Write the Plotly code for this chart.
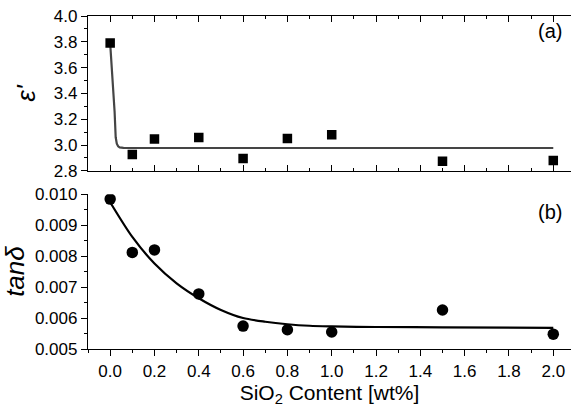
import plotly.graph_objects as go

# ---- data ----
sio2_content = [0.0, 0.1, 0.2, 0.4, 0.6, 0.8, 1.0, 1.5, 2.0]
eps_real = [3.79, 2.926, 3.047, 3.059, 2.896, 3.051, 3.079, 2.875, 2.880]
tan_delta = [0.00984, 0.00812, 0.00820, 0.00678, 0.00574, 0.00562, 0.00555, 0.00626, 0.00548]

eps_fit_x = [0.0, 0.005, 0.013, 0.02, 0.025, 0.03, 0.036, 0.043, 0.06, 0.1, 2.0]
eps_fit_y = [3.79, 3.66, 3.51, 3.26, 3.06, 3.01, 2.99, 2.982, 2.978, 2.977, 2.977]

tan_fit_x = [0.0, 0.1, 0.2, 0.3, 0.4, 0.5, 0.6, 0.7, 0.8, 0.9, 1.0, 1.2, 1.5, 2.0]
tan_fit_y = [0.00974, 0.00862, 0.00776, 0.00712, 0.00664, 0.00626, 0.00600, 0.00588,
             0.00580, 0.00575, 0.00573, 0.00571, 0.00570, 0.00568]

x_ticks = [0.0, 0.2, 0.4, 0.6, 0.8, 1.0, 1.2, 1.4, 1.6, 1.8, 2.0]
x_tick_labels = ["0.0", "0.2", "0.4", "0.6", "0.8", "1.0", "1.2", "1.4", "1.6", "1.8", "2.0"]
eps_ticks = [2.8, 3.0, 3.2, 3.4, 3.6, 3.8, 4.0]
tan_ticks = [0.005, 0.006, 0.007, 0.008, 0.009, 0.010]

FONT = "Arial, Liberation Sans, sans-serif"
X_RANGE = [-0.1, 2.08]
EPS_RANGE = [2.8, 4.0]
TAN_RANGE = [0.005, 0.010]

fig = go.Figure()

fig.add_trace(go.Scatter(x=eps_fit_x, y=eps_fit_y, mode="lines",
                         line=dict(color="#454545", width=2.2), xaxis="x", yaxis="y",
                         showlegend=False))
fig.add_trace(go.Scatter(x=sio2_content, y=eps_real, mode="markers",
                         marker=dict(symbol="square", size=9.5, color="black"),
                         xaxis="x", yaxis="y", showlegend=False))
fig.add_trace(go.Scatter(x=tan_fit_x, y=tan_fit_y, mode="lines",
                         line=dict(color="black", width=2.2, shape="spline", smoothing=0.8),
                         xaxis="x2", yaxis="y2", showlegend=False))
fig.add_trace(go.Scatter(x=sio2_content, y=tan_delta, mode="markers",
                         marker=dict(symbol="circle", size=11.5, color="black"),
                         xaxis="x2", yaxis="y2", showlegend=False))

axcommon = dict(showline=True, linecolor="black", linewidth=1.3, showgrid=False,
                zeroline=False, tickcolor="black", tickwidth=1.3, ticklen=6,
                tickfont=dict(family=FONT, size=17, color="black"))

TOP_DOM = [0.535, 1.0]
BOT_DOM = [0.0, 0.465]

fig.update_layout(
    width=578, height=412,
    margin=dict(l=88, r=7, t=7, b=63),
    paper_bgcolor="white", plot_bgcolor="white",
    font=dict(family=FONT, color="black"),
    # top panel
    xaxis=dict(axcommon, domain=[0, 1], anchor="y", range=X_RANGE, tickvals=x_ticks,
               showticklabels=False, ticks="inside", mirror="ticks",
               minor=dict(dtick=0.1, tick0=0, ticks="inside", ticklen=3,
                          tickcolor="black", tickwidth=1.1)),
    yaxis=dict(axcommon, domain=TOP_DOM, anchor="x", range=EPS_RANGE, tickvals=eps_ticks,
               tickformat=".1f", ticks="outside",
               minor=dict(dtick=0.1, tick0=2.8, ticks="outside", ticklen=3,
                          tickcolor="black", tickwidth=1.1),
               title=dict(text="<i>ε'</i>", font=dict(family=FONT, size=26), standoff=10)),
    yaxis3=dict(axcommon, overlaying="y", side="right", anchor="x", range=EPS_RANGE,
                tickvals=eps_ticks, showticklabels=False, ticks="inside",
                minor=dict(dtick=0.1, tick0=2.8, ticks="inside", ticklen=3,
                           tickcolor="black", tickwidth=1.1)),
    # bottom panel
    xaxis2=dict(axcommon, domain=[0, 1], anchor="y2", range=X_RANGE, tickvals=x_ticks,
                ticktext=x_tick_labels, ticks="outside",
                minor=dict(dtick=0.1, tick0=0, ticks="outside", ticklen=3,
                           tickcolor="black", tickwidth=1.1),
                title=dict(text="SiO<sub>2</sub> Content [wt%]",
                           font=dict(family=FONT, size=21), standoff=4)),
    xaxis3=dict(axcommon, overlaying="x2", side="top", anchor="y2", range=X_RANGE,
                tickvals=x_ticks, showticklabels=False, ticks="inside",
                minor=dict(dtick=0.1, tick0=0, ticks="inside", ticklen=3,
                           tickcolor="black", tickwidth=1.1)),
    yaxis2=dict(axcommon, domain=BOT_DOM, anchor="x2", range=TAN_RANGE, tickvals=tan_ticks,
                tickformat=".3f", ticks="outside",
                minor=dict(dtick=0.0005, tick0=0.005, ticks="outside", ticklen=3,
                           tickcolor="black", tickwidth=1.1),
                title=dict(text="<i>tanδ</i>", font=dict(family=FONT, size=26), standoff=6)),
    yaxis4=dict(axcommon, overlaying="y2", side="right", anchor="x2", range=TAN_RANGE,
                tickvals=tan_ticks, showticklabels=False, ticks="inside",
                minor=dict(dtick=0.0005, tick0=0.005, ticks="inside", ticklen=3,
                           tickcolor="black", tickwidth=1.1)),
    annotations=[
        dict(text="(a)", x=0.985, y=0.955, xref="paper", yref="paper", xanchor="right",
             yanchor="middle", showarrow=False, font=dict(family=FONT, size=20)),
        dict(text="(b)", x=0.985, y=0.41, xref="paper", yref="paper", xanchor="right",
             yanchor="middle", showarrow=False, font=dict(family=FONT, size=20)),
    ],
)

fig.write_html("out.html")
